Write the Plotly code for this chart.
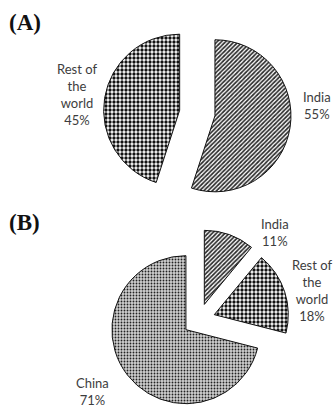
import plotly.graph_objects as go

# Data
labels_a = ["India", "Rest of the world"]
values_a = [55, 45]
labels_b = ["India", "Rest of the world", "China"]
values_b = [11, 18, 71]
panel_titles = ["(A)", "(B)"]

wrap = {"India": "India", "Rest of the world": "Rest of<br>the<br>world", "China": "China"}
patterns = {
    "India": dict(shape="/", size=3, solidity=0.55, fgcolor="#2a2a2a", bgcolor="#ffffff"),
    "Rest of the world": dict(shape=".", size=4, solidity=0.55, fgcolor="#111111", bgcolor="#ffffff"),
    "China": dict(shape=".", size=3, solidity=0.3, fgcolor="#222222", bgcolor="#cfcfcf"),
}

# label centre positions (paper fractions), in slice order
label_pos_a = [(317 / 333, 1 - 105 / 410), (77 / 333, 1 - 94.7 / 410)]
label_pos_b = [(275 / 333, 1 - 233 / 410), (312 / 333, 1 - 290.3 / 410), (92.5 / 333, 1 - 391.3 / 410)]


def pattern_for(labels):
    keys = ["shape", "size", "solidity", "fgcolor", "bgcolor"]
    d = {k: [patterns[l][k] for l in labels] for k in keys}
    d["fillmode"] = "replace"
    return d


label_font = dict(family="Lato, 'Open Sans', sans-serif", size=13, color="#3d3d3d")

fig = go.Figure()
fig.add_trace(go.Pie(
    labels=labels_a, values=values_a,
    sort=False, direction="clockwise", rotation=0,
    pull=[0.235] * len(labels_a),
    textinfo="none",
    marker=dict(colors=["#ffffff"] * len(labels_a), line=dict(color="#111111", width=1),
                pattern=pattern_for(labels_a)),
    domain=dict(x=[0.3105, 0.8745], y=[0.4954, 0.9534]),
    showlegend=False, hoverinfo="label+percent",
))
fig.add_trace(go.Pie(
    labels=labels_b, values=values_b,
    sort=False, direction="clockwise", rotation=0,
    pull=[0.22] * len(labels_b),
    textinfo="none",
    marker=dict(colors=["#ffffff"] * len(labels_b), line=dict(color="#111111", width=1),
                pattern=pattern_for(labels_b)),
    domain=dict(x=[0.3258, 0.8682], y=[0.0, 0.4405]),
    showlegend=False, hoverinfo="label+percent",
))

for labels, values, positions in [(labels_a, values_a, label_pos_a), (labels_b, values_b, label_pos_b)]:
    total = sum(values)
    for lab, val, (px, py) in zip(labels, values, positions):
        fig.add_annotation(text="%s<br>%d%%" % (wrap[lab], round(100 * val / total)),
                           x=px, y=py, xref="paper", yref="paper",
                           xanchor="center", yanchor="middle", align="center",
                           showarrow=False, font=label_font)

title_font = dict(family="Liberation Serif, 'Times New Roman', serif", size=23, color="#111111")
for t, yy in zip(panel_titles, [0.945, 0.457]):
    fig.add_annotation(text="<b>%s</b>" % t, x=0.022, y=yy, xref="paper", yref="paper",
                       xanchor="left", yanchor="middle", showarrow=False, font=title_font)

fig.update_layout(
    width=333, height=410,
    margin=dict(l=0, r=0, t=0, b=0),
    paper_bgcolor="#ffffff", plot_bgcolor="#ffffff",
)

fig.write_html("out.html")
